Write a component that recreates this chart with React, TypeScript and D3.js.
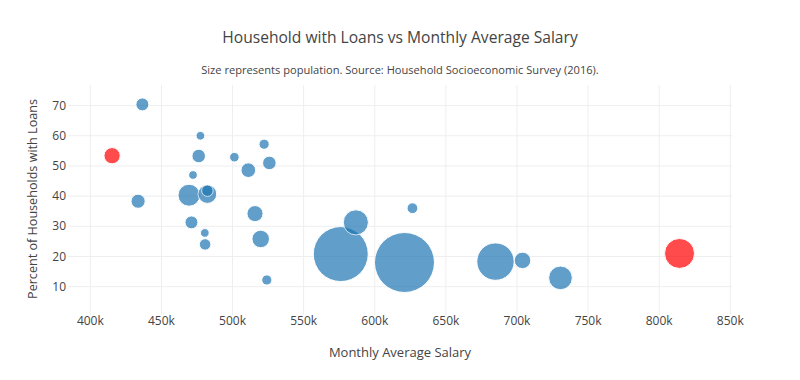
import React from "react";
import * as d3 from "d3";

// Monthly average salary (thousands)
const salary = [436.6, 415.3, 477.4, 476.2, 472.2, 469.4, 482.3, 482.3, 433.6, 471.1, 480.5, 480.7, 501.3, 522.2, 525.9, 511.1, 515.8, 519.8, 524.1, 576.1, 586.7, 620.9, 626.5, 684.9, 703.9, 730.6, 814.3];
// Percent of households with loans
const loanPct = [70.4, 53.4, 60.0, 53.3, 47.0, 40.3, 40.7, 41.8, 38.3, 31.3, 27.8, 24.0, 52.9, 57.2, 51.0, 48.6, 34.2, 25.8, 12.2, 20.8, 31.3, 18.0, 36.0, 18.3, 18.7, 12.9, 21.0];
// Population (relative, thousands)
const population = [42, 66, 19, 46, 19, 121, 88, 33, 50, 42, 19, 33, 23, 26, 46, 54, 65, 77, 26, 756, 158, 900, 29, 350, 68, 140, 225];
// Highlighted (red) points
const highlighted = [false, true, false, false, false, false, false, false, false, false, false, false, false, false, false, false, false, false, false, false, false, false, false, false, false, false, true];

const xTicks = [400, 450, 500, 550, 600, 650, 700, 750, 800, 850];
const yTicks = [10, 20, 30, 40, 50, 60, 70];

const W = 800;
const H = 380;
const L = 68, R = 732, T = 85, B = 315;
const FONT = "'Open Sans', verdana, arial, sans-serif";

export default function App() {
  const x = d3.scaleLinear().domain([384.3, 851.2]).range([L, R]);
  const y = d3.scaleLinear().domain([0.6, 76.83]).range([B, T]);
  const maxPop = d3.max(population) as number;
  const r = d3.scaleSqrt().domain([0, maxPop]).range([0, 30]);
  const idx = d3.range(salary.length);

  return (
    <svg width={W} height={H} style={{ position: "absolute", left: 0, top: 0, background: "#fff" }} fontFamily={FONT}>
      <rect x={0} y={0} width={W} height={H} fill="#fff" />
      {xTicks.map((t) => (
        <line key={"gx" + t} x1={x(t)} x2={x(t)} y1={T} y2={B} stroke="#eee" strokeWidth={1} />
      ))}
      {yTicks.map((t) => (
        <line key={"gy" + t} x1={L} x2={R} y1={y(t)} y2={y(t)} stroke="#eee" strokeWidth={1} />
      ))}
      {xTicks.map((t) => (
        <text key={"tx" + t} x={x(t)} y={325} textAnchor="middle" fontSize={12} fill="#444">
          {t + "k"}
        </text>
      ))}
      {yTicks.map((t) => (
        <text key={"ty" + t} x={66} y={y(t)} dy="0.35em" textAnchor="end" fontSize={12} fill="#444">
          {t}
        </text>
      ))}
      {idx.map((i) => (
        <circle
          key={"c" + i}
          cx={x(salary[i])}
          cy={y(loanPct[i])}
          r={r(population[i])}
          fill={highlighted[i] ? "rgb(255,0,0)" : "rgb(31,119,180)"}
          stroke="#fff"
          strokeWidth={1}
          opacity={0.7}
        />
      ))}
      <text x={400} y={43} textAnchor="middle" fontSize={15.6} fill="#444">
        Household with Loans vs Monthly Average Salary
      </text>
      <text x={400} y={74} textAnchor="middle" fontSize={11.1} fill="#444">
        Size represents population. Source: Household Socioeconomic Survey (2016).
      </text>
      <text x={400} y={357} textAnchor="middle" fontSize={13} fill="#444">
        Monthly Average Salary
      </text>
      <text transform="translate(37,199) rotate(-90)" textAnchor="middle" fontSize={12.6} fill="#444">
        Percent of Households with Loans
      </text>
    </svg>
  );
}
